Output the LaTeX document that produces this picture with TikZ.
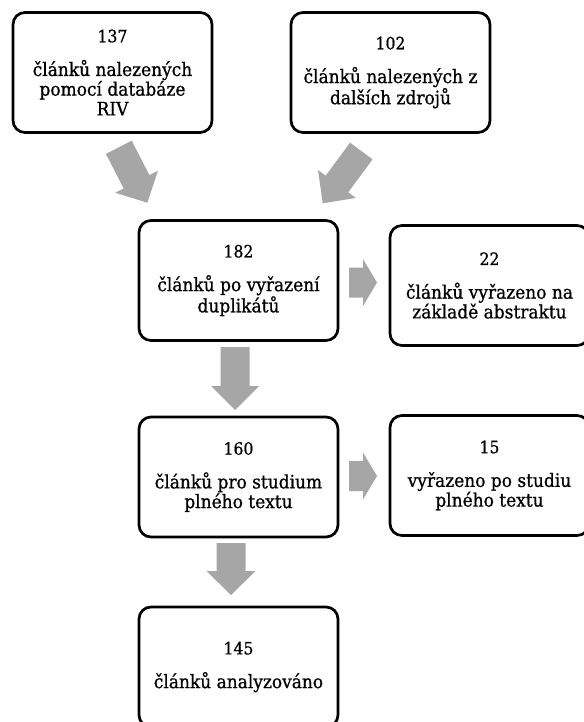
\documentclass[tikz,border=0pt]{standalone}
\usepackage{fontspec}
\setmainfont{DejaVu Serif}[FakeStretch=0.92, FakeBold=0.8]
\usetikzlibrary{calc}
\definecolor{arrowgray}{HTML}{A6A6A6}
\newcommand{\numtxt}[1]{{\fontsize{17}{19.7}\selectfont #1}}
\tikzset{
  box/.style={draw=black, line width=2.7pt, rounded corners=12pt, fill=white,
    minimum width=199pt, minimum height=120pt, align=center, inner sep=0pt,
    font=\fontsize{18.5}{19.7}\selectfont},
  sidebox/.style={box, minimum width=199pt},
  arrowfill/.style={fill=arrowgray, draw=none}
}
% #1 tail, #2 tip, #3 shaft half width, #4 head half width, #5 head length
\newcommand{\blockarr}[5]{%
  \coordinate (hb) at ($(#2)!#5!(#1)$);
  \fill[arrowfill] ($(#1)!#3!90:(#2)$) -- ($(hb)!#3!90:(#2)$) -- ($(hb)!#4!90:(#2)$)
    -- (#2) -- ($(hb)!#4!-90:(#2)$) -- ($(hb)!#3!-90:(#2)$) -- ($(#1)!#3!-90:(#2)$) -- cycle;}
\begin{document}
\begin{tikzpicture}[x=1pt,y=-1pt]
\useasboundingbox[fill=white] (0,0) rectangle (583,722);

\node[box] (riv) at (112.5,72.5) {\numtxt{137}\\[14pt]článků nalezených\\pomocí databáze\\RIV};
\node[box] (other) at (390.5,72.5) {\numtxt{102}\\[14pt]článků nalezených z\\dalších zdrojů};
\node[box] (dup) at (238.5,280.5) {\numtxt{182}\\[14pt]článků po vyřazení\\duplikátů};
\node[sidebox] (abs) at (489.5,285.5) {\numtxt{22}\\[14pt]článků vyřazeno na\\základě abstraktu};
\node[box] (full) at (238.5,477) {\numtxt{160}\\[14pt]článků pro studium\\plného textu};
\node[sidebox] (excl) at (489.5,475.5) {\numtxt{15}\\[14pt]vyřazeno po studiu\\plného textu};
\node[box] (anal) at (238.5,667) {\numtxt{145}\\[14pt]článků analyzováno};

% arrow end points
\coordinate (a1s) at (118.8,147.3);
\coordinate (a1e) at (147.3,202.7);
\coordinate (a2s) at (361.3,151);
\coordinate (a2e) at (322.7,203.3);
\coordinate (a3s) at (235,347);
\coordinate (a3e) at (235,410);
\coordinate (a4s) at (231,543);
\coordinate (a4e) at (231,595);
\coordinate (a5s) at (349,282.5);
\coordinate (a5e) at (377,282.5);
\coordinate (a6s) at (349,476);
\coordinate (a6e) at (377,476);

\blockarr{a1s}{a1e}{14.5pt}{24pt}{23.5pt}
\blockarr{a2s}{a2e}{14pt}{23.5pt}{24pt}
\blockarr{a3s}{a3e}{14.5pt}{24pt}{24pt}
\blockarr{a4s}{a4e}{14.5pt}{24.5pt}{24pt}
\blockarr{a5s}{a5e}{15pt}{23.5pt}{14pt}
\blockarr{a6s}{a6e}{15pt}{23.5pt}{14pt}
\end{tikzpicture}
\end{document}
